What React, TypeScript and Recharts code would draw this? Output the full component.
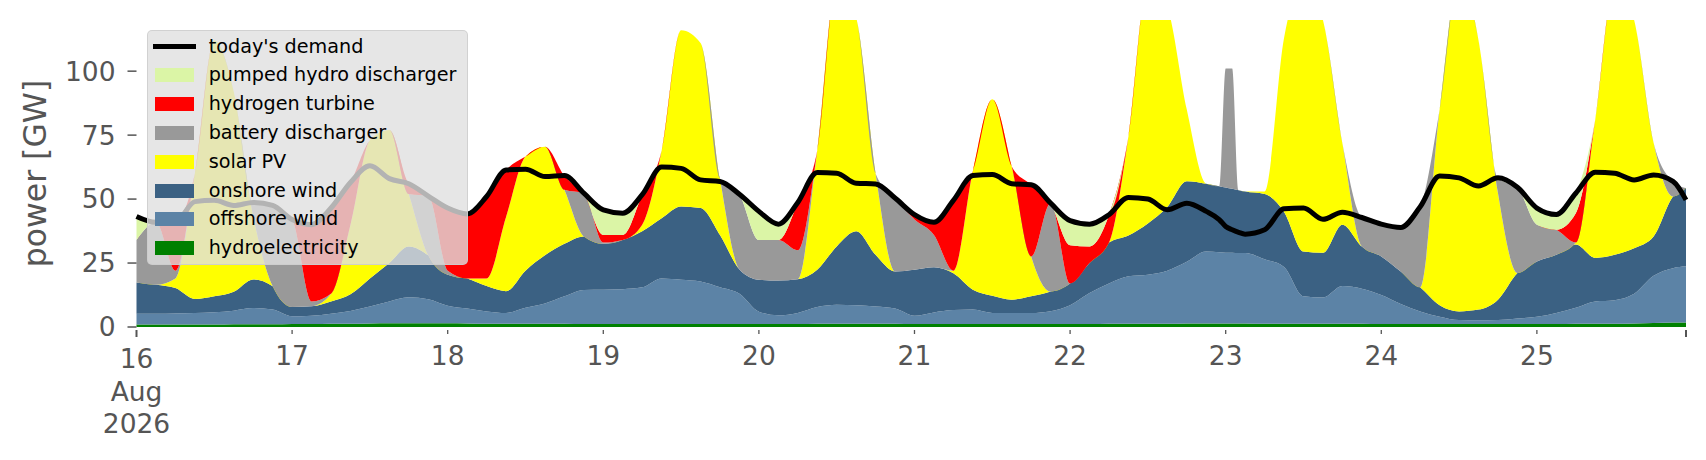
import { ComposedChart, Area, Line, XAxis, YAxis, Legend } from "recharts";

const FONT = "'DejaVu Sans', sans-serif";
const INK = "#555555";

// hours since 16 Aug 2026 00:00
const HOURS = [
  0, 3, 6, 9, 12, 15, 18, 21,
  24, 27, 30, 33, 36, 39, 42, 45,
  48, 51, 54, 57, 60, 63, 66, 69,
  72, 75, 78, 81, 84, 87, 90, 93,
  96, 99, 102, 105, 108, 111, 114, 117,
  120, 123, 126, 129, 132, 135, 138, 141,
  144, 147, 150, 153, 156, 159, 162, 165,
  167, 168, 169, 170,
  171, 174, 177, 180, 183, 186, 189,
  192, 195, 198, 201, 204, 207, 210, 213,
  216, 219, 222, 225, 228, 231, 234, 237,
  239,
];

// GW per technology
const HYDRO = [
  1.0, 1.0, 1.0, 1.0, 1.0, 1.1, 1.1, 1.1,
  1.2, 1.2, 1.3, 1.3, 1.4, 1.5, 1.5, 1.5,
  1.5, 1.4, 1.3, 1.3, 1.3, 1.3, 1.3, 1.2,
  1.2, 1.2, 1.2, 1.2, 1.2, 1.2, 1.2, 1.2,
  1.2, 1.2, 1.2, 1.3, 1.3, 1.3, 1.3, 1.3,
  1.2, 1.2, 1.2, 1.2, 1.2, 1.2, 1.2, 1.2,
  1.2, 1.2, 1.3, 1.3, 1.3, 1.3, 1.4, 1.4,
  1.4, 1.4, 1.4, 1.4,
  1.4, 1.3, 1.3, 1.3, 1.3, 1.3, 1.3,
  1.2, 1.2, 1.2, 1.2, 1.2, 1.2, 1.2, 1.2,
  1.2, 1.2, 1.3, 1.3, 1.3, 1.4, 1.6, 1.8,
  1.8,
];
const OFFSHORE = [
  4.2, 4.2, 4.3, 4.5, 4.8, 5.3, 6.3, 5.7,
  3.0, 3.2, 3.9, 5.0, 6.6, 8.5, 10.1, 9.3,
  6.8, 5.8, 4.8, 4.2, 6.2, 7.9, 10.7, 13.3,
  13.4, 13.6, 14.3, 17.8, 17.3, 16.6, 14.3, 11.8,
  4.8, 3.4, 4.3, 6.5, 7.4, 7.2, 6.7, 5.9,
  3.2, 4.5, 5.4, 5.6, 4.3, 4.3, 4.3, 5.0,
  7.3, 12.1, 15.7, 18.5, 19.1, 20.7, 24.1, 28.1,
  27.8, 27.6, 27.6, 27.5,
  27.5, 25.2, 22.2, 10.7, 10.2, 14.7, 13.7,
  11.3, 7.8, 4.9, 2.8, 1.5, 1.4, 1.5, 2.1,
  2.8, 4.3, 6.2, 8.7, 9.2, 11.6, 18.4, 21.2,
  21.9,
];
const ONSHORE = [
  12.2, 11.3, 9.9, 5.4, 6.2, 7.4, 11.2, 9.1,
  3.6, 3.7, 4.8, 6.5, 11.0, 15.0, 19.9, 17.2,
  12.1, 11.8, 9.9, 8.5, 14.5, 18.8, 20.5, 20.9,
  17.9, 19.2, 21.9, 23.5, 28.6, 28.7, 20.5, 9.5,
  12.5, 13.6, 13.2, 14.6, 22.8, 28.9, 20.2, 14.5,
  18.0, 17.7, 14.4, 7.8, 6.7, 5.2, 6.5, 7.7,
  8.5, 11.7, 16.0, 16.0, 20.1, 25.0, 31.5, 26.5,
  25.8, 25.5, 25.0, 24.6,
  24.1, 25.5, 21.5, 17.5, 17.5, 24.0, 16.5,
  15.1, 12.7, 9.4, 4.5, 3.4, 4.2, 8.0, 17.8,
  21.6, 22.7, 24.7, 17.0, 17.7, 17.8, 15.4, 28.0,
  30.6,
];
const SOLAR = [
  0, 0, 3.8, 49.1, 100.0, 78.2, 24.9, 0,
  0, 0, 3.0, 27.2, 54.0, 52.0, 20.5, 0,
  0, 0, 3.0, 29.0, 44.6, 42.5, 21.1, 0,
  0, 0, 2.6, 26.5, 68.9, 64.5, 22.0, 0,
  0, 0, 0, 46.6, 103.5, 83.6, 31.8, 0,
  0, 0, 1.0, 46.4, 76.8, 52.0, 15.6, 0,
  0, 0, 0, 38.7, 94.5, 78.0, 28.0, 0,
  0, 0, 0, 0,
  0, 1.0, 68.0, 105.5, 91.0, 31.8, 0,
  0, 0, 0, 76.5, 130.9, 105.2, 41.6, 0,
  0, 0, 0.8, 54.0, 106.8, 89.2, 36.6, 0,
  0,
];
const BATTERY = [
  16.6, 24.4, 3.0, 0, 0, 0, 5.2, 31.6,
  34.2, 1.9, 0, 0, 0, 0, 0, 23.2,
  1.6, 0, 0, 0, 0, 0, 0, 16.9,
  0.5, 0, 0, 0, 0, 0, 0, 29.4,
  15.5, 15.8, 11.3, 0, 0, 0, 0, 28.7,
  19.6, 12.6, 0, 0, 0, 0, 0, 34.5,
  0, 0, 0, 0, 0, 0, 0, 0,
  0, 46.5, 47.0, 0,
  0, 0, 0, 0, 0, 0, 11.3,
  12.6, 17.2, 31.5, 0, 0, 0, 6.0, 33.5,
  14.4, 9.8, 0, 0, 0, 0, 0, 5.9,
  0,
];
const HYDROGEN = [
  0, 0, 19.0, 0, 0, 0, 0, 0,
  0, 30.0, 33.5, 16.5, 0, 0, 4.0, 0,
  24.5, 25.2, 32.0, 18.4, 0, 0, 5.6, 0,
  3.0, 2.0, 11.7, 0, 0, 0, 0, 0,
  0, 0, 18.7, 0, 0, 0, 0, 0,
  1.9, 4.9, 27.5, 0, 0, 0, 28.0, 0,
  15.0, 6.5, 10.9, 0, 0, 0, 0, 0,
  0, 0, 0, 0,
  0, 0, 0, 0, 0, 0, 0,
  0, 0, 0, 0, 0, 0, 0, 0,
  0, 0, 11.5, 0, 0, 0, 0, 0,
  0,
];
const PUMPED = [
  9.2, 0, 0, 0, 0, 0, 0, 0,
  0, 0, 0, 0, 0, 0, 0, 0,
  0, 0, 0, 0, 0, 0, 0, 0,
  9.8, 8.5, 0, 0, 0, 0, 0, 0,
  11.2, 6.2, 0, 0, 0, 0, 0, 0,
  0, 0, 0, 0, 0, 0, 0, 0,
  9.6, 8.7, 0, 0, 0, 0, 0, 0,
  0, 0, 0, 0,
  0, 0, 0, 0, 0, 0, 0,
  0, 0, 0, 0, 0, 0, 0, 0,
  6.5, 6.0, 7.8, 0, 0, 0, 0, 0,
  0,
];
const DEMAND = [
  43.2, 40.9, 41.0, 49.0, 49.5, 47.5, 48.7, 47.5,
  42.0, 40.0, 46.5, 56.5, 63.0, 58.0, 56.0, 51.2,
  46.5, 44.2, 51.0, 61.4, 61.7, 58.8, 59.2, 52.3,
  45.8, 44.5, 51.7, 62.5, 62.0, 57.5, 56.9, 51.9,
  45.2, 40.2, 48.7, 60.4, 60.1, 56.2, 55.9, 50.4,
  43.9, 40.9, 49.5, 59.2, 59.6, 56.0, 55.6, 48.4,
  41.6, 40.2, 43.9, 50.6, 50.0, 45.8, 48.4, 45.2,
  42.0, 39.3, 38.0, 37.0,
  36.3, 38.0, 46.2, 46.5, 42.1, 44.9, 42.8,
  40.2, 38.9, 47.0, 59.0, 58.3, 55.1, 58.3, 54.6,
  46.5, 44.0, 52.3, 60.5, 60.1, 57.5, 59.4, 56.9,
  49.7,
];

const DAY_TICKS = [0, 24, 48, 72, 96, 120, 144, 168, 192, 216, 239];
const DAY_LABELS = ["16", "17", "18", "19", "20", "21", "22", "23", "24", "25", ""];
const Y_TICKS = [0, 25, 50, 75, 100];

const COLORS = {
  hydro: "#008000",
  offshore: "#5c83a6",
  onshore: "#3b6183",
  solar: "#ffff00",
  battery: "#999999",
  hydrogen: "#ff0000",
  pumped: "#dbf5a6",
};

// bottom to top
const STACK = [
  { key: "hydro", color: COLORS.hydro },
  { key: "offshore", color: COLORS.offshore },
  { key: "onshore", color: COLORS.onshore },
  { key: "solar", color: COLORS.solar },
  { key: "battery", color: COLORS.battery },
  { key: "hydrogen", color: COLORS.hydrogen },
  { key: "pumped", color: COLORS.pumped },
];

const LEGEND_ROWS = [
  { label: "today's demand", color: "#000000", line: true },
  { label: "pumped hydro discharger", color: COLORS.pumped },
  { label: "hydrogen turbine", color: COLORS.hydrogen },
  { label: "battery discharger", color: COLORS.battery },
  { label: "solar PV", color: COLORS.solar },
  { label: "onshore wind", color: COLORS.onshore },
  { label: "offshore wind", color: COLORS.offshore },
  { label: "hydroelectricity", color: COLORS.hydro },
];

const data = HOURS.map((h, i) => ({
  h,
  hydro: HYDRO[i],
  offshore: OFFSHORE[i],
  onshore: ONSHORE[i],
  solar: SOLAR[i],
  battery: BATTERY[i],
  hydrogen: HYDROGEN[i],
  pumped: PUMPED[i],
  demand: DEMAND[i],
}));

const DayTick = (props: any) => {
  const { x, y, payload } = props;
  const i = DAY_TICKS.indexOf(payload.value);
  const major = i === 0 || i === DAY_TICKS.length - 1;
  const textStyle = { fill: INK, fontSize: 26.5, fontFamily: FONT };
  return (
    <g>
      <line
        x1={x}
        x2={x}
        y1={y + 3}
        y2={y + (major ? 10 : 7)}
        stroke={INK}
        strokeWidth={major ? 2 : 1.3}
      />
      {i === 0 ? (
        <>
          <text x={x} y={y + 41} textAnchor="middle" {...textStyle}>{DAY_LABELS[i]}</text>
          <text x={x} y={y + 74} textAnchor="middle" {...textStyle}>Aug</text>
          <text x={x} y={y + 106} textAnchor="middle" {...textStyle}>2026</text>
        </>
      ) : (
        <text x={x} y={y + 37.5} textAnchor="middle" {...textStyle}>{DAY_LABELS[i]}</text>
      )}
    </g>
  );
};

const YLabel = () => (
  <text
    x={27}
    y={165.5}
    transform="rotate(-90 27 165.5)"
    textAnchor="middle"
    dominantBaseline="central"
    fill={INK}
    fontSize={31.5}
    fontFamily={FONT}
  >
    power [GW]
  </text>
);

const LegendBox = () => (
  <div
    style={{
      position: "relative",
      width: 321,
      height: 235,
      boxSizing: "border-box",
      background: "rgba(224,224,224,0.8)",
      border: "1px solid rgba(204,204,204,0.8)",
      borderRadius: 5,
      fontFamily: FONT,
      fontSize: 19.2,
      color: "#000",
    }}
  >
    {LEGEND_ROWS.map((row, i) => {
      const cy = 15.5 + i * 28.8;
      return (
        <div key={row.label}>
          {row.line ? (
            <span style={{ position: "absolute", left: 5, top: cy - 2.5, width: 43, height: 5, background: row.color }} />
          ) : (
            <span style={{ position: "absolute", left: 7, top: cy - 7, width: 39, height: 14, background: row.color }} />
          )}
          <span style={{ position: "absolute", left: 61, top: cy - 12, lineHeight: "24px", whiteSpace: "nowrap" }}>
            {row.label}
          </span>
        </div>
      );
    })}
  </div>
);

export default function App() {
  return (
    <div style={{ width: 1690, height: 444 }}>
      <ComposedChart
        width={1690}
        height={444}
        data={data}
        margin={{ top: 12, right: 12, bottom: 0, left: 0 }}
      >
        <XAxis
          dataKey="h"
          type="number"
          domain={[0, 239]}
          ticks={DAY_TICKS}
          interval={0}
          axisLine={false}
          tickLine={false}
          tickSize={0}
          tickMargin={0}
          height={125}
          tick={<DayTick />}
        />
        <YAxis
          domain={[0, 120]}
          allowDataOverflow
          ticks={Y_TICKS}
          width={128.5}
          axisLine={false}
          tickLine={{ stroke: INK, strokeWidth: 1.5 }}
          tickSize={9}
          tickMargin={12}
          tick={{ fill: INK, fontSize: 26.5, fontFamily: FONT }}
          label={<YLabel />}
        />
        {STACK.map((s) => (
          <Area
            key={s.key}
            dataKey={s.key}
            stackId="gen"
            type="monotone"
            fill={s.color}
            fillOpacity={1}
            stroke="none"
            dot={false}
            activeDot={false}
            isAnimationActive={false}
          />
        ))}
        <Line
          dataKey="demand"
          type="monotone"
          stroke="#000000"
          strokeWidth={5}
          strokeLinejoin="round"
          dot={false}
          activeDot={false}
          isAnimationActive={false}
        />
        <Legend
          layout="vertical"
          align="center"
          verticalAlign="middle"
          wrapperStyle={{ left: 138.7, top: 22 }}
          content={() => <LegendBox />}
        />
      </ComposedChart>
    </div>
  );
}
